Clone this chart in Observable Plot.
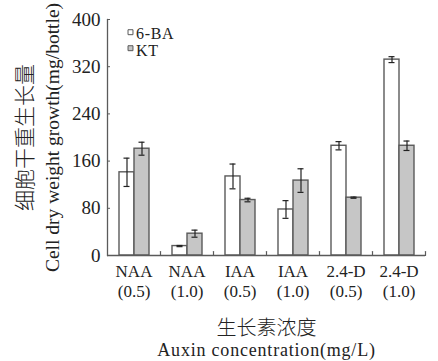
<!DOCTYPE html>
<html>
<head>
<meta charset="utf-8">
<script src="https://cdn.jsdelivr.net/npm/d3@7"></script>
<script src="https://cdn.jsdelivr.net/npm/@observablehq/plot@0.6"></script>
<style>
  html, body { margin: 0; padding: 0; background: #fff; }
  .wide text { letter-spacing: 0.8px; }
  .wide2 text { letter-spacing: 0.7px; }
</style>
</head>
<body>
<div id="chart"></div>
<script>
// ---- data ----
const auxins = ["NAA", "NAA", "IAA", "IAA", "2.4-D", "2.4-D"];
const concentrations = ["(0.5)", "(1.0)", "(0.5)", "(1.0)", "(0.5)", "(1.0)"];
const hormones = ["6-BA", "KT"];
const baValues = [141, 16, 134, 78, 186, 332];
const baErrors = [24, 1, 21, 15, 7, 5];
const ktValues = [181, 37, 94, 127, 98, 186];
const ktErrors = [11, 6, 3, 20, 1, 8];
const yTicks = [0, 80, 160, 240, 320, 400];

const groups = auxins.map((a, i) => a + "\n" + concentrations[i]);
const rows = [];
groups.forEach((g, i) => {
  rows.push({group: g, hormone: hormones[0], value: baValues[i], err: baErrors[i]});
  rows.push({group: g, hormone: hormones[1], value: ktValues[i], err: ktErrors[i]});
});

const ink = "#222";
const edge = "#5a5a5a";
const serif = "'Liberation Serif', 'Noto Sans CJK SC', serif";
const cjk = "'Noto Sans CJK SC', sans-serif";
const tickShape = {draw(context, l) { context.moveTo(0, 0); context.lineTo(0, -l); }};

const chart = Plot.plot({
  width: 438,
  height: 361,
  marginTop: 19,
  marginBottom: 106,
  marginLeft: 105,
  marginRight: 12,
  style: {fontFamily: serif, fontSize: "17px", color: ink, background: "#fff"},
  fx: {domain: groups, padding: 0, label: null},
  x: {domain: hormones, paddingInner: 0, paddingOuter: 0.72, axis: null},
  y: {domain: [0, 400]},
  color: {domain: hormones, range: ["#ffffff", "#c6c6c6"]},
  marks: [
    Plot.barY(rows, {fx: "group", x: "hormone", y: "value", fill: "hormone", stroke: edge, strokeWidth: 1.4}),
    Plot.ruleX(rows, {fx: "group", x: "hormone", y1: d => d.value - d.err, y2: d => d.value + d.err, stroke: ink, strokeWidth: 1.2}),
    Plot.tickY(rows, {fx: "group", x: "hormone", y: d => d.value - d.err, stroke: ink, strokeWidth: 1.2, insetLeft: 4.5, insetRight: 4.5}),
    Plot.tickY(rows, {fx: "group", x: "hormone", y: d => d.value + d.err, stroke: ink, strokeWidth: 1.2, insetLeft: 4.5, insetRight: 4.5}),
    Plot.ruleY([0], {stroke: edge, strokeWidth: 1.3}),
    Plot.frame({anchor: "left", facetAnchor: "left", stroke: edge, strokeWidth: 1.3}),
    Plot.vector([0], {frameAnchor: "bottom-right", length: 4, rotate: 0, anchor: "start", stroke: edge, strokeWidth: 1.2, shape: tickShape}),
    Plot.axisY({ticks: yTicks, tickSize: -3, tickPadding: 10, fontSize: 19, label: null, stroke: edge}),
    Plot.axisY({ticks: [], label: "Cell dry weight growth(mg/bottle)", labelAnchor: "center", labelOffset: 62, labelArrow: "none", fontSize: 19.5, className: "wide"}),
    Plot.axisY({ticks: [], label: "细胞干重生长量", labelAnchor: "center", labelOffset: 90, labelArrow: "none", fontSize: 21, fontFamily: cjk, fontWeight: 300}),
    Plot.axisFx({anchor: "bottom", tickSize: 0, tickPadding: 7, fontSize: 17, lineHeight: 1.2,
      label: "Auxin concentration(mg/L)", labelAnchor: "center", labelOffset: 100, labelArrow: "none"}),
    Plot.axisFx({anchor: "bottom", ticks: [], label: "生长素浓度", labelAnchor: "center", labelOffset: 79, labelArrow: "none", fontSize: 20, fontFamily: cjk, fontWeight: 300}),
    // legend
    Plot.dot([hormones[0]], {fx: () => groups[0], frameAnchor: "top-left", dx: 23, dy: 12.7, symbol: "square", r: 2.8, fill: d => d, stroke: edge, strokeWidth: 1}),
    Plot.dot([hormones[1]], {fx: () => groups[0], frameAnchor: "top-left", dx: 23, dy: 28.7, symbol: "square", r: 2.8, fill: d => d, stroke: edge, strokeWidth: 1}),
    Plot.text([hormones[0]], {fx: () => groups[0], frameAnchor: "top-left", lineAnchor: "middle", dx: 28.5, dy: 14, text: d => d, textAnchor: "start", fontSize: 16, fill: ink, className: "wide2"}),
    Plot.text([hormones[1]], {fx: () => groups[0], frameAnchor: "top-left", lineAnchor: "middle", dx: 28.5, dy: 31, text: d => d, textAnchor: "start", fontSize: 16, fill: ink, className: "wide2"})
  ]
});
// widen the bottom English title a little to match the reference's wider serif
chart.querySelectorAll("[aria-label='fx-axis label'] text").forEach(t => {
  if (t.textContent.startsWith("Auxin")) { t.style.letterSpacing = "0.8px"; t.setAttribute("font-size", "18"); }
});
document.getElementById("chart").appendChild(chart);
</script>
</body>
</html>
